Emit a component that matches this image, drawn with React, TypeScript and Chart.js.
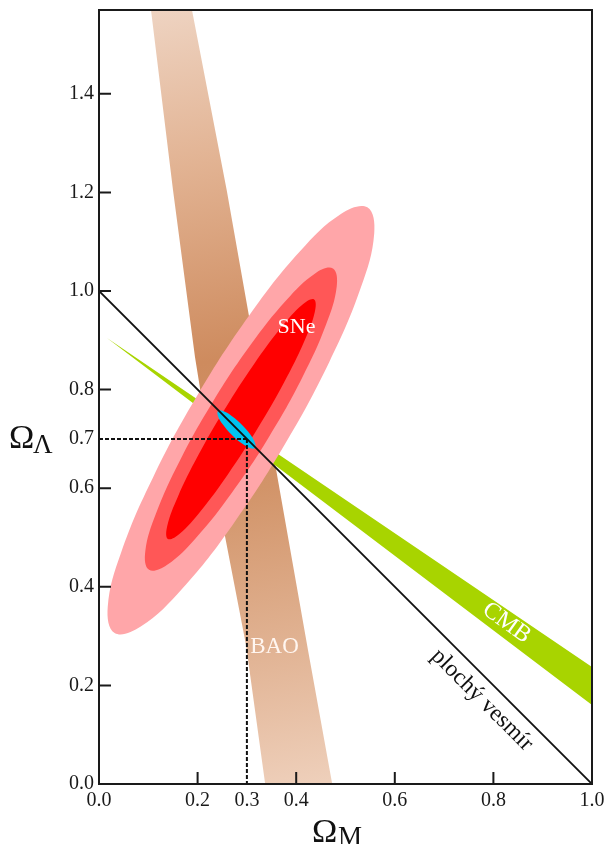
import React, { useEffect, useRef } from 'react';
import { Chart, registerables } from 'chart.js';

Chart.register(...registerables);

// ---------- axes ----------
const X_RANGE = [0, 1];
const Y_RANGE = [0, 1.57];
const X_TICK_LABELS = [0, 0.2, 0.3, 0.4, 0.6, 0.8, 1.0];
const Y_TICK_LABELS = [0, 0.2, 0.4, 0.6, 0.7, 0.8, 1.0, 1.2, 1.4];
const X_TICK_MARKS = [0.2, 0.4, 0.6, 0.8];
const Y_TICK_MARKS = [0.2, 0.4, 0.6, 0.8, 1.0, 1.2, 1.4];

// ---------- constraints in the (Ω_M, Ω_Λ) plane ----------
const SNE_3SIGMA = [
  [0.5443, 1.1697], [0.4913, 1.1567], [0.4073, 1.0800], [0.3053, 0.9512],
  [0.2005, 0.7899], [0.1091, 0.6208], [0.0449, 0.4694], [0.0177, 0.3591],
  [0.0317, 0.3063], [0.0847, 0.3193], [0.1687, 0.3960], [0.2707, 0.5251],
  [0.3755, 0.6864], [0.4669, 0.8555], [0.5311, 1.0069], [0.5583, 1.1172],
];
const SNE_2SIGMA = [
  [0.4745, 1.0456], [0.4384, 1.0357], [0.3794, 0.9808], [0.3065, 0.8893],
  [0.2307, 0.7750], [0.1637, 0.6553], [0.1156, 0.5486], [0.0938, 0.4711],
  [0.1015, 0.4344], [0.1376, 0.4443], [0.1966, 0.4992], [0.2695, 0.5907],
  [0.3453, 0.7050], [0.4123, 0.8247], [0.4604, 0.9314], [0.4822, 1.0089],
];
const SNE_1SIGMA = [
  [0.4363, 0.9830], [0.4124, 0.9722], [0.3696, 0.9260], [0.3143, 0.8516],
  [0.2550, 0.7601], [0.2007, 0.6656], [0.1598, 0.5824], [0.1384, 0.5232],
  [0.1397, 0.4970], [0.1636, 0.5078], [0.2064, 0.5540], [0.2617, 0.6284],
  [0.3210, 0.7199], [0.3753, 0.8144], [0.4162, 0.8976], [0.4376, 0.9568],
];
const COMBINED = [
  [0.3164, 0.6815], [0.3165, 0.6917], [0.3066, 0.7092], [0.2892, 0.7293],
  [0.2691, 0.7467], [0.2515, 0.7567], [0.2414, 0.7567], [0.2413, 0.7465],
  [0.2513, 0.7290], [0.2686, 0.7089], [0.2887, 0.6915], [0.3063, 0.6815],
];
const BAO_BAND = [
  [0.1018, 1.60], [0.1501, 1.2049], [0.1947, 0.8661], [0.2414, 0.5761],
  [0.2982, 0.2819], [0.3412, -0.03],
  [0.4785, -0.03], [0.4239, 0.2718], [0.3189, 0.8661], [0.2590, 1.2049],
  [0.1828, 1.60],
];
const CMB_BAND = [
  [0.0162, 0.9047], [1.0, 0.2373], [1.0, 0.1602],
];
const FLAT_UNIVERSE = [[0, 1], [1, 0]];
const BEST_FIT = [0.3, 0.7];

const ANNOTATIONS = [
  { text: 'SNe', x: 0.4006, y: 0.927, angle: 0, color: '#ffffff', size: 22 },
  { text: 'BAO', x: 0.356, y: 0.277, angle: 0, color: '#fff6f0', size: 23 },
  { text: 'CMB', x: 0.8266, y: 0.3266, angle: 35.7, color: '#ffffff', size: 24 },
  { text: 'plochý vesmír', x: 0.7769, y: 0.1704, angle: 45, color: '#111111', size: 23.5 },
];

const SERIF = '"Liberation Serif", "Times New Roman", serif';

const toXY = (pts: number[][]) => pts.map(([x, y]) => ({ x, y }));

function baoGradient(c: any) {
  const chart = c.chart;
  const a = chart.chartArea;
  if (!a) return '#d59670';
  const w = a.right - a.left;
  const g = chart.ctx.createLinearGradient(a.left + 0.12 * w, a.top, a.left + 0.42 * w, a.bottom);
  g.addColorStop(0, '#eed3c1');
  g.addColorStop(0.2, '#e2b393');
  g.addColorStop(0.45, '#ce8b5e');
  g.addColorStop(0.62, '#d29469');
  g.addColorStop(0.85, '#e3b799');
  g.addColorStop(1, '#eecfba');
  return g;
}

const zeroPad = (s: any) => {
  s.paddingTop = 0;
  s.paddingBottom = 0;
  s.paddingLeft = 0;
  s.paddingRight = 0;
};

const decorPlugin = {
  id: 'decor',
  afterDatasetUpdate(chart: any, args: any) {
    const ds = chart.data.datasets[args.index];
    if (ds && ds.closedCurve && args.meta.dataset) {
      args.meta.dataset._loop = true;
      args.meta.dataset._fullLoop = true;
    }
  },
  afterDraw(chart: any) {
    const { ctx, chartArea: a, scales } = chart;
    const xs = scales.x;
    const ys = scales.y;
    ctx.save();
    // annotations
    ANNOTATIONS.forEach((l) => {
      ctx.save();
      ctx.translate(xs.getPixelForValue(l.x), ys.getPixelForValue(l.y));
      ctx.rotate((l.angle * Math.PI) / 180);
      ctx.font = `${l.size}px ${SERIF}`;
      ctx.fillStyle = l.color;
      ctx.textAlign = 'center';
      ctx.textBaseline = 'middle';
      ctx.fillText(l.text, 0, 0);
      ctx.restore();
    });
    // frame
    ctx.strokeStyle = '#1a1a1a';
    ctx.lineWidth = 2;
    ctx.strokeRect(a.left, a.top, a.right - a.left, a.bottom - a.top);
    ctx.beginPath();
    Y_TICK_MARKS.forEach((v) => {
      const py = ys.getPixelForValue(v);
      ctx.moveTo(a.left, py);
      ctx.lineTo(a.left + 12, py);
    });
    X_TICK_MARKS.forEach((v) => {
      const px = xs.getPixelForValue(v);
      ctx.moveTo(px, a.bottom);
      ctx.lineTo(px, a.bottom - 12);
    });
    ctx.stroke();
    // axis titles
    ctx.fillStyle = '#111111';
    ctx.textAlign = 'left';
    ctx.textBaseline = 'alphabetic';
    ctx.font = `34px ${SERIF}`;
    ctx.fillText('Ω', 9, 448);
    ctx.fillText('Ω', 312, 842);
    ctx.font = `27px ${SERIF}`;
    ctx.fillText('Λ', 33, 453);
    ctx.fillText('M', 338, 845);
    ctx.restore();
  },
};

export default function App() {
  const ref = useRef<HTMLCanvasElement | null>(null);

  useEffect(() => {
    if (!ref.current) return;
    const shape = (pts: number[][], color: any, extra: any = {}) => ({
      data: toXY(pts),
      showLine: true,
      fill: 'shape',
      backgroundColor: color,
      borderWidth: 0,
      pointRadius: 0,
      tension: 0,
      ...extra,
    });
    const line = (pts: number[][], extra: any = {}) => ({
      data: toXY(pts),
      showLine: true,
      fill: false,
      borderColor: '#111111',
      borderWidth: 2,
      pointRadius: 0,
      tension: 0,
      ...extra,
    });

    const chart = new Chart(ref.current, {
      type: 'scatter',
      data: {
        datasets: [
          line(FLAT_UNIVERSE, { borderWidth: 1.8 }),
          line([[X_RANGE[0], BEST_FIT[1]], BEST_FIT], { borderDash: [4, 2] }),
          line([BEST_FIT, [BEST_FIT[0], Y_RANGE[0]]], { borderDash: [4, 2] }),
          shape(COMBINED, '#00c3f0', { tension: 0.4, closedCurve: true }),
          shape(SNE_1SIGMA, '#ff0000', { tension: 0.4, closedCurve: true }),
          shape(SNE_2SIGMA, '#ff5757', { tension: 0.4, closedCurve: true }),
          shape(SNE_3SIGMA, '#ffa6a9', { tension: 0.4, closedCurve: true }),
          shape(CMB_BAND, '#a8d400'),
          shape(BAO_BAND, baoGradient),
        ] as any,
      },
      options: {
        responsive: false,
        animation: false,
        devicePixelRatio: 1,
        layout: { padding: { left: 0, top: 10, right: 12, bottom: 0 } },
        plugins: { legend: { display: false }, tooltip: { enabled: false } },
        elements: { point: { radius: 0 } },
        scales: {
          x: {
            type: 'linear',
            min: X_RANGE[0],
            max: X_RANGE[1],
            grid: { display: false, drawTicks: false },
            border: { display: false },
            afterBuildTicks: (s: any) => {
              s.ticks = X_TICK_LABELS.map((v) => ({ value: v }));
            },
            afterFit: (s: any) => {
              s.height = 60;
              zeroPad(s);
            },
            ticks: {
              autoSkip: false,
              maxRotation: 0,
              padding: 5,
              color: '#1a1a1a',
              font: { family: SERIF, size: 20 },
              callback: (v: any) => Number(v).toFixed(1),
            },
          },
          y: {
            type: 'linear',
            min: Y_RANGE[0],
            max: Y_RANGE[1],
            grid: { display: false, drawTicks: false },
            border: { display: false },
            afterBuildTicks: (s: any) => {
              s.ticks = Y_TICK_LABELS.map((v) => ({ value: v }));
            },
            afterFit: (s: any) => {
              s.width = 99;
              zeroPad(s);
            },
            ticks: {
              autoSkip: false,
              padding: 5,
              color: '#1a1a1a',
              font: { family: SERIF, size: 20 },
              callback: (v: any) => Number(v).toFixed(1),
            },
          },
        },
      } as any,
      plugins: [decorPlugin as any],
    });
    return () => chart.destroy();
  }, []);

  return (
    <div style={{ position: 'absolute', left: 0, top: 0, width: 604, height: 844, background: '#ffffff' }}>
      <canvas ref={ref} width={604} height={844} style={{ display: 'block', width: 604, height: 844 }} />
    </div>
  );
}
